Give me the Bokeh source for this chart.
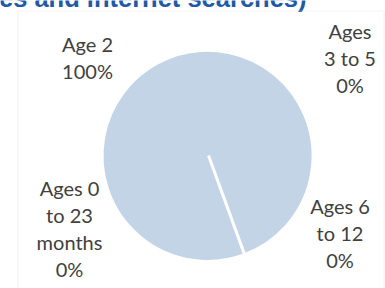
import math
from bokeh.plotting import figure
from bokeh.models import Range1d, ColumnDataSource, BoxAnnotation
from bokeh.core.properties import value
from bokeh.embed import file_html
from bokeh.resources import INLINE

# ---- data ----
categories = ["Ages 0 to 23 months", "Age 2", "Ages 3 to 5", "Ages 6 to 12"]
values = [0, 100, 0, 0]
label_lines = [["Ages 0", "to 23", "months"], ["Age 2"], ["Ages", "3 to 5"], ["Ages 6", "to 12"]]
title_text = "es and internet searches)"

# ---- layout (pixels from top-left) ----
W, H = 385, 288
cx, cy, r = 208, 155, 105.5
start_deg = -70.0
label_pos = [(69, 196), (87, 52), (349.5, 39), (339.5, 214)]
line_step = 27

p = figure(width=W, height=H, x_range=Range1d(0, W), y_range=Range1d(0, H),
           output_backend="svg", toolbar_location=None, min_border=0)
p.axis.visible = False
p.grid.visible = False
p.outline_line_color = None
p.background_fill_color = "white"
p.border_fill_color = "white"

# border of chart area
p.add_layout(BoxAnnotation(left=17.5, right=383.5, top=H - 10.5, bottom=-20,
                           fill_alpha=0, line_color="#D9D9D9", line_width=1.2))

# pie wedges
total = sum(values)
theta0 = math.radians(start_deg)
starts, ends = [], []
cum = 0.0
for v in values:
    a0 = theta0 - 2 * math.pi * cum / total
    cum += v
    frac = min(cum / total, 1 - 1e-6)
    a1 = theta0 - 2 * math.pi * frac
    starts.append(a0)
    ends.append(a1)
src = ColumnDataSource(dict(cat=categories, val=values, s=starts, e=ends))
p.wedge(x=cx, y=H - cy, radius=r, start_angle="s", end_angle="e", direction="clock",
        source=src, fill_color="#C3D4E7", line_color="white", line_width=3)

# labels
xs, ys, txt = [], [], []
for lines, v, (lx, ly) in zip(label_lines, values, label_pos):
    allines = lines + [f"{v / total * 100:.0f}%"]
    for i, t in enumerate(allines):
        xs.append(lx)
        ys.append(H - (ly + i * line_step))
        txt.append(t)
p.text(x=xs, y=ys, text=txt, text_align="center", text_baseline="alphabetic",
       y_offset=-8.5,
       text_font=value("Lato"), text_font_size="20px", text_color="#404040")

# title (clipped at top)
p.text(x=[306], y=[H - 6], text=[title_text], text_align="right", text_baseline="alphabetic",
       y_offset=-8.5,
       text_font=value("Liberation Sans"), text_font_style="bold", text_font_size="25.5px",
       text_color="#1F5AA8")

open("out.html", "w").write(file_html(p, INLINE))
